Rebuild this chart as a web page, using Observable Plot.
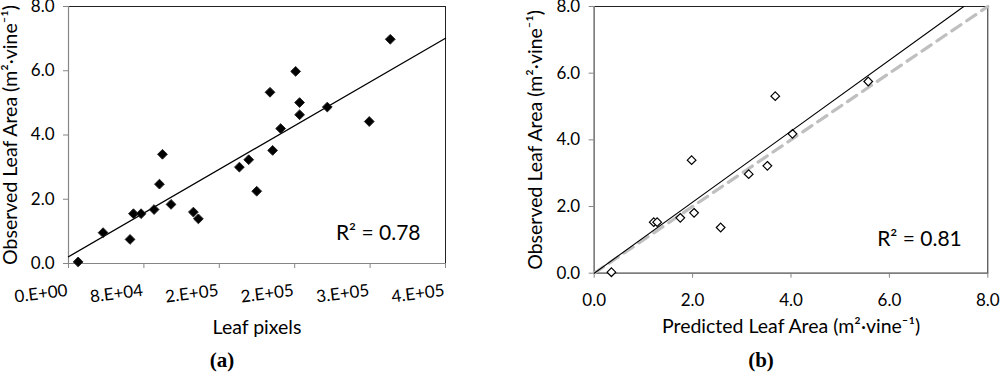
<!DOCTYPE html>
<html>
<head>
<meta charset="utf-8">
<script src="https://cdn.jsdelivr.net/npm/d3@7"></script>
<script src="https://cdn.jsdelivr.net/npm/@observablehq/plot@0.6"></script>
<style>
  body { margin: 0; background: #fff; }
  #wrap { position: relative; width: 1000px; height: 375px; overflow: hidden; font-family: Lato, sans-serif; }
  #wrap svg { position: absolute; top: 0; }
  .cap { position: absolute; top: 348px; font-family: "Liberation Serif", serif; font-weight: bold; font-size: 21px; transform: translateX(-50%); }
</style>
</head>
<body>
<div id="wrap"></div>
<script>
// ---- Panel (a): leaf pixels vs observed leaf area ----
const pixelsA = [10200, 36700, 65300, 68900, 77000, 90800, 96500, 99700, 108800, 132500, 137800,
                 181300, 191200, 199700, 213800, 216600, 225100, 241000, 245200, 245200, 274600, 319100, 341400];
const observedA = [0.05, 0.96, 0.75, 1.55, 1.55, 1.68, 2.47, 3.40, 1.84, 1.60, 1.39,
                   3.00, 3.23, 2.25, 5.33, 3.52, 4.20, 5.98, 5.01, 4.63, 4.87, 4.42, 6.98];
const xTicksA = [0, 80000, 160000, 240000, 320000, 400000];
const xTickLabelsA = ["0.E+00", "8.E+04", "2.E+05", "2.E+05", "3.E+05", "4.E+05"];
const yTicks = [0, 2, 4, 6, 8];
const yTickLabels = ["0.0", "2.0", "4.0", "6.0", "8.0"];
const fitA = {intercept: 0.21, slope: 1.7e-5};
const r2A = "R\u00B2 = 0.78";

// ---- Panel (b): predicted vs observed leaf area ----
const predictedB = [0.35, 1.21, 1.28, 1.75, 2.03, 1.98, 2.57, 3.14, 3.52, 3.68, 4.03, 5.57];
const observedB  = [0.03, 1.53, 1.53, 1.66, 1.81, 3.39, 1.37, 2.97, 3.22, 5.31, 4.18, 5.75];
const xTicksB = [0, 2, 4, 6, 8];
const xTickLabelsB = ["0.0", "2.0", "4.0", "6.0", "8.0"];
const fitB = {intercept: 0, slope: 1.065};
const oneToOne = [0, 8];
const r2B = "R\u00B2 = 0.81";

const yLabel = "Observed Leaf Area (m\u00B2\u00B7vine\u207B\u00B9)";
const xLabelA = "Leaf pixels";
const xLabelB = "Predicted Leaf Area (m\u00B2\u00B7vine\u207B\u00B9)";

const dataA = pixelsA.map((x, i) => ({x, y: observedA[i]}));
const dataB = predictedB.map((x, i) => ({x, y: observedB[i]}));
const lineA = [0, 400000].map(x => ({x, y: fitA.intercept + fitA.slope * x}));
const lineB = [0, (8 - fitB.intercept) / fitB.slope].map(x => ({x, y: fitB.intercept + fitB.slope * x}));
const diag = oneToOne.map(v => ({x: v, y: v}));

const axisGray = "#868686";
const font = "Lato, sans-serif";
const tickFont = 17;
const titleFont = 19.5;

function frameMarks(xDomain) {
  return [
    Plot.frame({stroke: "#222", strokeWidth: 1}),
    Plot.ruleX([xDomain[0]], {stroke: axisGray, strokeWidth: 1.2}),
    Plot.ruleY([0], {stroke: axisGray, strokeWidth: 1.2}),
    Plot.axisY(yTicks, {tickSize: 5, tickPadding: 9, stroke: axisGray, fill: "black",
                        tickFormat: d => yTickLabels[yTicks.indexOf(d)], fontSize: tickFont, label: null})
  ];
}

const chartA = Plot.plot({
  width: 500, height: 375,
  marginLeft: 68, marginRight: 55, marginTop: 6, marginBottom: 112,
  x: {domain: [0, 400000], axis: null},
  y: {domain: [0, 8], axis: null},
  style: {fontFamily: font, fontSize: "16px", color: "black", background: "transparent", overflow: "visible"},
  marks: [
    ...frameMarks([0, 400000]),
    Plot.axisX(xTicksA, {tickSize: 5, stroke: axisGray, text: null, label: null}),
    Plot.text(xTicksA, {x: d => d, text: (d, i) => xTickLabelsA[i], frameAnchor: "bottom", dy: 27, dx: -1,
                        rotate: -7, textAnchor: "end", lineAnchor: "middle", fontSize: tickFont}),
    Plot.line(lineA, {x: "x", y: "y", stroke: "black", strokeWidth: 1.3}),
    Plot.dot(dataA, {x: "x", y: "y", symbol: "diamond2", r: 4.4, fill: "black", stroke: "#222", strokeWidth: 1}),
    Plot.text([r2A], {frameAnchor: "bottom-right", dx: -25, dy: -30, textAnchor: "end", lineAnchor: "middle", fontSize: 21}),
    Plot.text([xLabelA], {frameAnchor: "bottom", dy: 64, textAnchor: "middle", lineAnchor: "middle", fontSize: titleFont}),
    Plot.text([yLabel], {frameAnchor: "left", dx: -58, rotate: -90, textAnchor: "middle", lineAnchor: "middle", fontSize: titleFont})
  ]
});

const chartB = Plot.plot({
  width: 500, height: 375,
  marginLeft: 93.7, marginRight: 12.7, marginTop: 6, marginBottom: 102.3,
  x: {domain: [0, 8], axis: null},
  y: {domain: [0, 8], axis: null},
  style: {fontFamily: font, fontSize: "16px", color: "black", background: "transparent", overflow: "visible"},
  marks: [
    ...frameMarks([0, 8]),
    Plot.axisX(xTicksB, {tickSize: 5, stroke: axisGray, text: null, label: null}),
    Plot.text(xTicksB, {x: d => d, text: (d, i) => xTickLabelsB[i], frameAnchor: "bottom", dy: 27, textAnchor: "middle", lineAnchor: "middle", fontSize: tickFont}),
    Plot.line(diag, {x: "x", y: "y", stroke: "#bfbfbf", strokeWidth: 3.2, strokeDasharray: "11,7"}),
    Plot.dot(dataB, {x: "x", y: "y", symbol: "diamond2", r: 3.9, fill: "white", stroke: "black", strokeWidth: 1.2}),
    Plot.line(lineB, {x: "x", y: "y", stroke: "black", strokeWidth: 1.1}),
    Plot.text([r2B], {frameAnchor: "bottom-right", dx: -26, dy: -33.5, textAnchor: "end", lineAnchor: "middle", fontSize: 21}),
    Plot.text([xLabelB], {frameAnchor: "bottom", dy: 54, textAnchor: "middle", lineAnchor: "middle", fontSize: titleFont}),
    Plot.text([yLabel], {frameAnchor: "left", dx: -58.7, rotate: -90, textAnchor: "middle", lineAnchor: "middle", fontSize: titleFont})
  ]
});

const wrap = document.getElementById("wrap");
chartA.style.left = "0px";
chartB.style.left = "500px";
wrap.appendChild(chartA);
wrap.appendChild(chartB);
const capA = document.createElement("div");
capA.className = "cap"; capA.style.left = "222px"; capA.textContent = "(a)";
const capB = document.createElement("div");
capB.className = "cap"; capB.style.left = "761px"; capB.textContent = "(b)";
wrap.appendChild(capA);
wrap.appendChild(capB);
</script>
</body>
</html>
